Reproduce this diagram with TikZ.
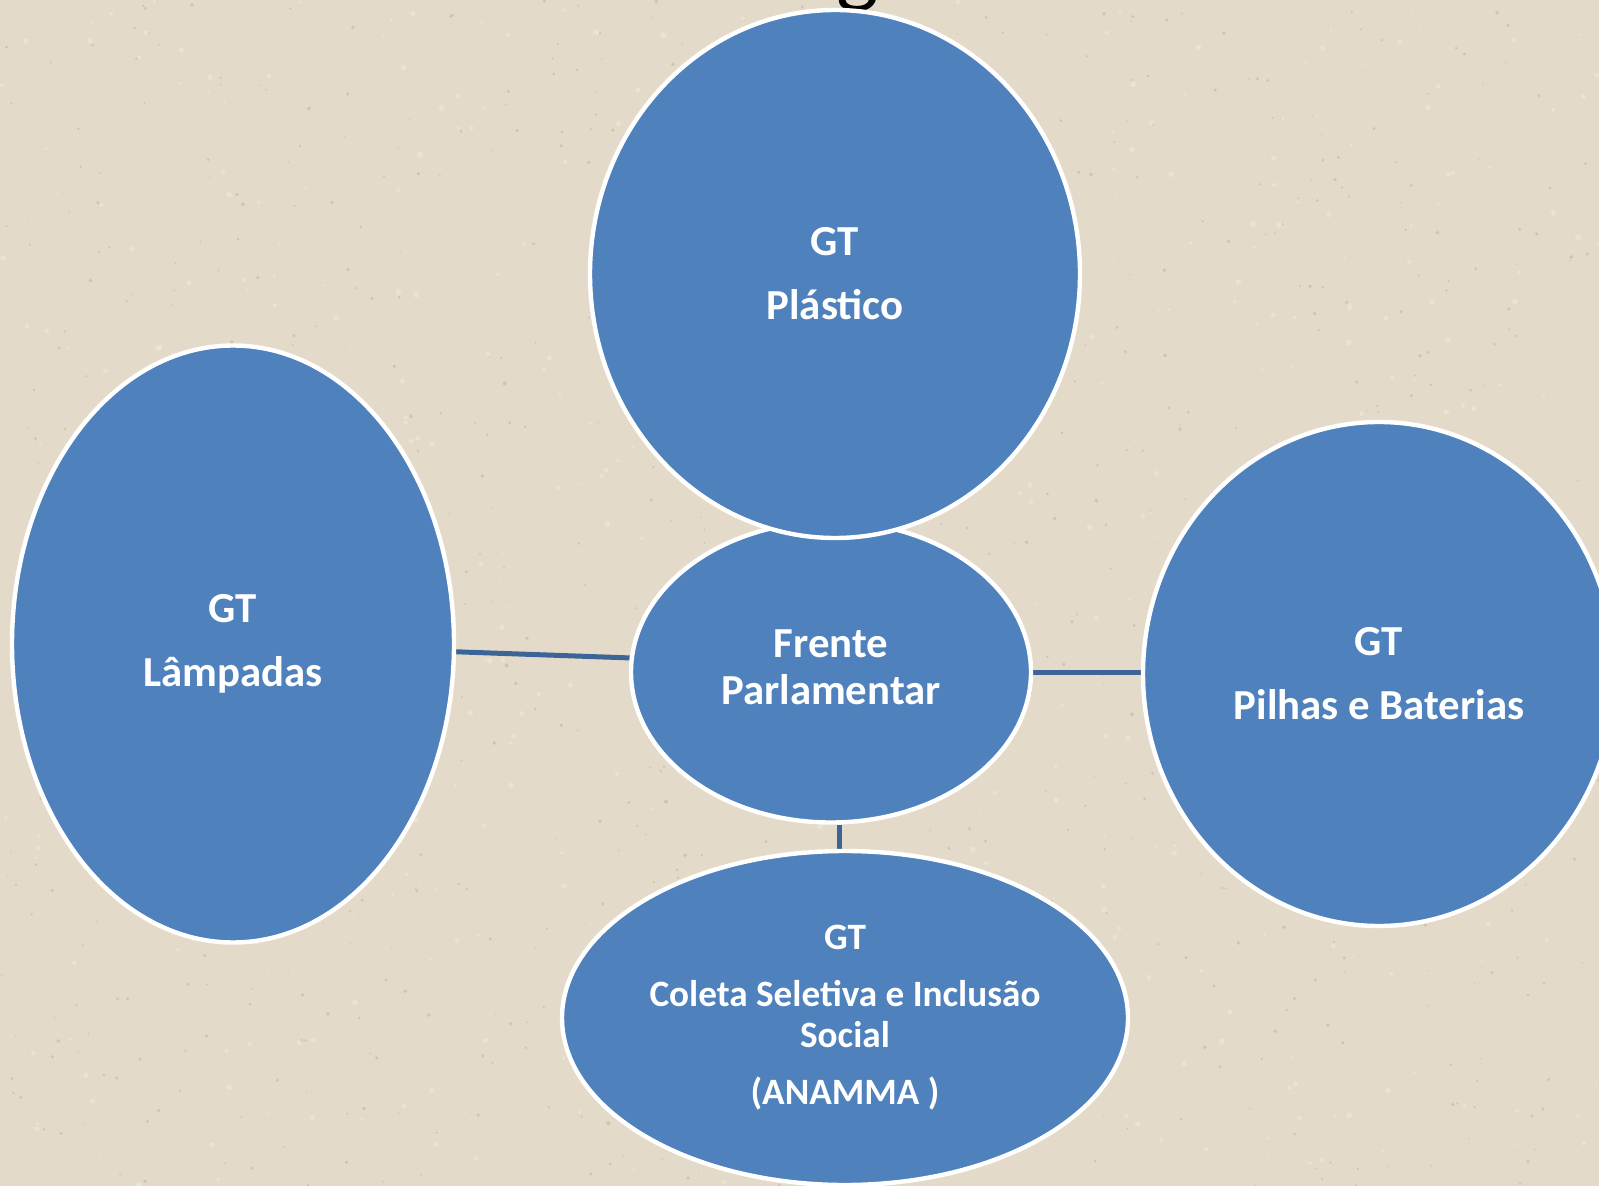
\documentclass[tikz,border=0pt]{standalone}
\usepackage{fontspec}
\setmainfont{Carlito}
\usetikzlibrary{shapes.geometric}
\definecolor{paper}{RGB}{227,218,201}
\definecolor{speck}{RGB}{190,178,158}
\definecolor{speckl}{RGB}{240,234,222}
\definecolor{ovalblue}{RGB}{79,129,189}
\definecolor{linkblue}{RGB}{60,100,150}
\pgfdeclarelayer{back}
\pgfdeclarelayer{lines}
\pgfsetlayers{back,lines,main}
\tikzset{
  ovaltext/.style={text=white, align=center, inner sep=0pt, font=\bfseries\fontsize{21.4}{23.5}\selectfont},
  oval/.style={ellipse, fill=ovalblue, draw=white, line width=2.2pt, inner sep=0pt, ovaltext},
  smalloval/.style={oval, font=\bfseries\fontsize{18.6}{20.5}\selectfont},
  link/.style={draw=linkblue, line width=2.5pt}
}
\begin{document}
\begin{tikzpicture}[x=0.5pt,y=-0.5pt]
\useasboundingbox (0,0) rectangle (1599,1186);
\begin{pgfonlayer}{back}
  \fill[paper] (0,0) rectangle (1599,1186);
  \pgfmathsetseed{7}
  \foreach \i in {1,...,900}{
    \fill[speck, opacity=0.55] (rnd*1599, rnd*1186) circle[radius=0.6+rnd*1.4];
  }
  \foreach \i in {1,...,600}{
    \fill[speckl, opacity=0.6] (rnd*1599, rnd*1186) circle[radius=1+rnd*2];
  }
  \node[anchor=base, inner sep=0pt, font=\fontsize{45}{50}\selectfont] (title) at (858,-3) {g};
\end{pgfonlayer}
\node[oval, minimum width=200pt, minimum height=150.5pt,
  label={[ovaltext, yshift=2.5pt, name=frentetext]center:{Frente\\Parlamentar}}] (frente) at (831,672) {};
\node[oval, minimum width=245pt, minimum height=264pt] (plastico) at (835,274) {GT\\[8.5pt]Plástico};
\node[oval, minimum width=221pt, minimum height=298.5pt] (lampadas) at (233,644) {GT\\[8.5pt]Lâmpadas};
\node[oval, minimum width=236pt, minimum height=252pt] (pilhas) at (1379,674) {GT\\[8.5pt]Pilhas e Baterias};
\node[smalloval, minimum width=283pt, minimum height=167pt] (coleta) at (845,1018) {GT\\[8pt]Coleta Seletiva e Inclusão\\Social\\[8pt](ANAMMA )};
\begin{pgfonlayer}{lines}
  \draw[link] (lampadas.-2) -- (frente.176);
  \draw[link] (frente.east) -- (frente.east -| pilhas.west);
  \draw[link] (frente.-87) -- (frente.-87 |- coleta.north);
\end{pgfonlayer}
\end{tikzpicture}
\end{document}
